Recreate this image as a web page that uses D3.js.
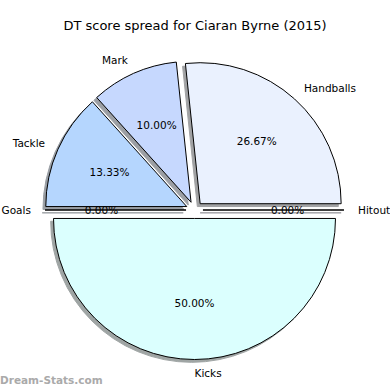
<!DOCTYPE html>
<html>
<head>
<meta charset="utf-8">
<script src="https://cdn.jsdelivr.net/npm/d3@7"></script>
<style>
  body { margin: 0; background: #fff; }
  svg { display: block; font-family: 'DejaVu Sans', sans-serif; }
</style>
</head>
<body>
<svg width="390" height="390"></svg>
<script>
// slices in matplotlib order (counter-clockwise from 3 o'clock)
const categories = ['Handballs', 'Mark', 'Tackle', 'Goals', 'Kicks', 'Hitout'];
const values = [26.67, 10.00, 13.33, 0, 50.00, 0];
const colors = ['#eaf1fe', '#c6d8fe', '#b5d6fe', '#c8e6fe', '#dbfffe', '#e0e0ff'];
const title = 'DT score spread for Ciaran Byrne (2015)';

const svg = d3.select('svg');
const width = +svg.attr('width');

const cx = 194.5;
const cy = 210;
const explode = 0.06;
const labelDistance = 1.1;
const pctDistance = 0.6;

// data units -> pixels
const r = d3.scaleLinear().domain([0, 1]).range([0, 141]);

const data = categories.map((c, i) => ({ name: c, value: values[i], color: colors[i] }));

const pie = d3.pie()
  .sort(null)
  .value(d => d.value)
  .startAngle(Math.PI / 2)
  .endAngle(Math.PI / 2 - 2 * Math.PI);

const arcs = pie(data);
const arc = d3.arc().innerRadius(0).outerRadius(r(1));

const mid = d => (d.startAngle + d.endAngle) / 2;
const offset = (d, k) => [r(k) * Math.sin(mid(d)), -r(k) * Math.cos(mid(d))];

const g = svg.append('g').attr('transform', `translate(${cx},${cy})`);

// shadows (behind everything)
const shade = c => {
  const col = d3.rgb(c);
  return d3.rgb(col.r * 0.3, col.g * 0.3, col.b * 0.3).toString();
};

g.selectAll('.shadow').data(arcs).enter().append('path')
  .attr('class', 'shadow')
  .attr('transform', d => {
    const [x, y] = offset(d, explode);
    return `translate(${x - r(0.02)},${y + r(0.02)})`;
  })
  .attr('d', arc)
  .attr('fill', d => shade(d.data.color))
  .attr('stroke', d => shade(d.data.color))
  .attr('stroke-width', 1)
  .attr('opacity', 0.5);

g.selectAll('.wedge').data(arcs).enter().append('path')
  .attr('class', 'wedge')
  .attr('transform', d => {
    const [x, y] = offset(d, explode);
    return `translate(${x},${y})`;
  })
  .attr('d', arc)
  .attr('fill', d => d.data.color)
  .attr('stroke', '#000')
  .attr('stroke-width', 1)
  .attr('stroke-linejoin', 'round');

// category labels
g.selectAll('.label').data(arcs).enter().append('text')
  .attr('class', 'label')
  .attr('x', d => offset(d, explode)[0] + offset(d, labelDistance)[0])
  .attr('y', d => offset(d, explode)[1] + offset(d, labelDistance)[1])
  .attr('dy', '0.35em')
  .attr('text-anchor', d => Math.sin(mid(d)) > -1e-9 ? 'start' : 'end')
  .attr('font-size', '10.5px')
  .attr('fill', '#000')
  .text(d => d.data.name);

// percentage labels
const total = d3.sum(values);
g.selectAll('.pct').data(arcs).enter().append('text')
  .attr('class', 'pct')
  .attr('x', d => offset(d, explode)[0] + offset(d, pctDistance)[0])
  .attr('y', d => offset(d, explode)[1] + offset(d, pctDistance)[1])
  .attr('dy', '0.35em')
  .attr('text-anchor', 'middle')
  .attr('font-size', '10.5px')
  .attr('fill', '#000')
  .text(d => (d.data.value / total * 100).toFixed(2) + '%');

// title
svg.append('text')
  .attr('x', width / 2)
  .attr('y', 30)
  .attr('text-anchor', 'middle')
  .attr('font-size', '13px')
  .attr('fill', '#000')
  .text(title);

// watermark
svg.append('text')
  .attr('x', 0)
  .attr('y', 384)
  .attr('font-size', '10.5px')
  .attr('font-weight', 'bold')
  .attr('fill', '#aaaaaa')
  .text('Dream-Stats.com');
</script>
</body>
</html>
